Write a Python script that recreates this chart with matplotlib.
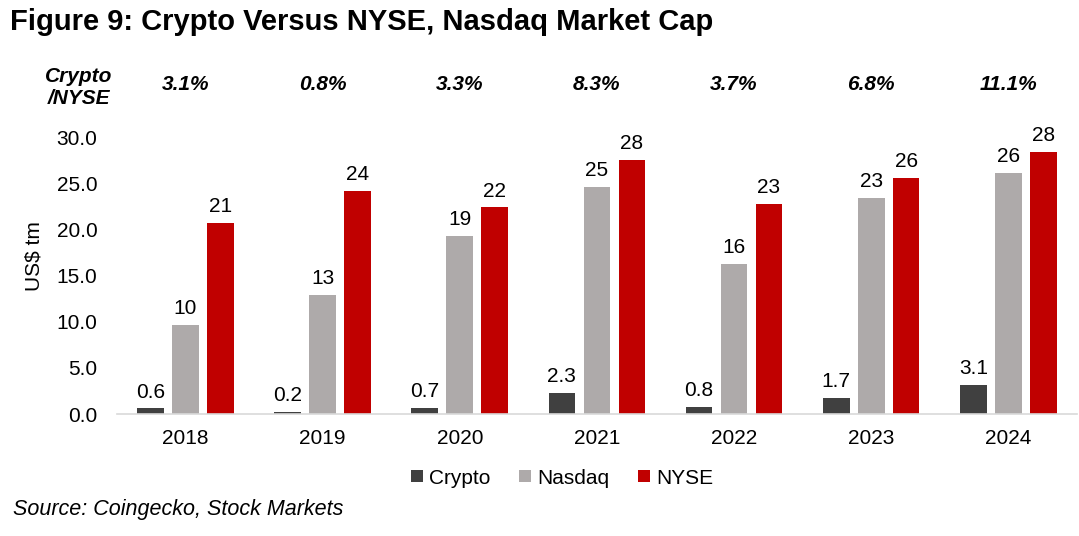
import numpy as np
import matplotlib
matplotlib.use("Agg")
import matplotlib.pyplot as plt

plt.rcParams['font.family'] = ['Liberation Sans', 'DejaVu Sans']

# データ
years = ["2018", "2019", "2020", "2021", "2022", "2023", "2024"]
crypto = [0.6, 0.2, 0.7, 2.3, 0.8, 1.7, 3.1]
nasdaq = [9.7, 12.9, 19.3, 24.6, 16.3, 23.4, 26.1]
nyse = [20.7, 24.2, 22.4, 27.6, 22.8, 25.6, 28.4]
ratio_labels = ["3.1%", "0.8%", "3.3%", "8.3%", "3.7%", "6.8%", "11.1%"]

c_crypto = "#404040"
c_nasdaq = "#AEAAAA"
c_nyse = "#C00000"
fs = 15

fig = plt.figure(figsize=(10.79, 5.36), dpi=100)
ax = fig.add_axes([0.1084, 0.2276, 0.8896, 0.516])

x = np.arange(len(years))
w = 0.195
step = 0.255

b1 = ax.bar(x - step, crypto, w, color=c_crypto, label="Crypto")
b2 = ax.bar(x, nasdaq, w, color=c_nasdaq, label="Nasdaq")
b3 = ax.bar(x + step, nyse, w, color=c_nyse, label="NYSE")

ax.bar_label(b1, labels=[f"{v:.1f}" for v in crypto], padding=5, fontsize=fs)
ax.bar_label(b2, labels=[f"{v:.0f}" for v in nasdaq], padding=5, fontsize=fs)
ax.bar_label(b3, labels=[f"{v:.0f}" for v in nyse], padding=5, fontsize=fs)

ax.set_xlim(-0.5, len(years) - 0.5)
ax.set_ylim(0, 30)
ax.set_yticks(np.arange(0, 30.1, 5))
ax.set_yticklabels([f"{v:.1f}" for v in np.arange(0, 30.1, 5)])
ax.set_xticks(x)
ax.set_xticklabels(years)
ax.tick_params(axis="both", length=0, labelsize=fs)
ax.tick_params(axis="x", pad=11)
ax.tick_params(axis="y", pad=14)
ax.set_ylabel("US$ tm", fontsize=fs)
ax.yaxis.set_label_coords(-0.077, 0.57)

for s in ["top", "right", "left"]:
    ax.spines[s].set_visible(False)
ax.spines["bottom"].set_color("#D9D9D9")
ax.spines["bottom"].set_linewidth(1.2)

# 比率ラベル（グラフ上部）
for xi, lab in zip(x, ratio_labels):
    ax.text(xi, 1.19, lab, transform=ax.get_xaxis_transform(),
            ha="center", va="center", fontsize=fs, fontweight="bold", fontstyle="italic")

fig.text(0.073, 1 - 87 / 536, "Crypto\n/NYSE", ha="center", va="center", fontsize=fs,
         fontweight="bold", fontstyle="italic", linespacing=1.2)

fig.text(0.009, 1 - 22 / 536, "Figure 9: Crypto Versus NYSE, Nasdaq Market Cap",
         ha="left", va="center", fontsize=21, fontweight="bold")

fig.legend(handles=[b1, b2, b3], loc="center", bbox_to_anchor=(0.521, 1 - 478 / 536),
           ncol=3, frameon=False, fontsize=fs, handlelength=0.55, handleheight=0.55,
           handletextpad=0.3, columnspacing=1.4)

fig.text(0.012, 1 - 510 / 536, "Source: Coingecko, Stock Markets", ha="left", va="center",
         fontsize=15.5, fontstyle="italic")

fig.savefig("out.png", dpi=100)
